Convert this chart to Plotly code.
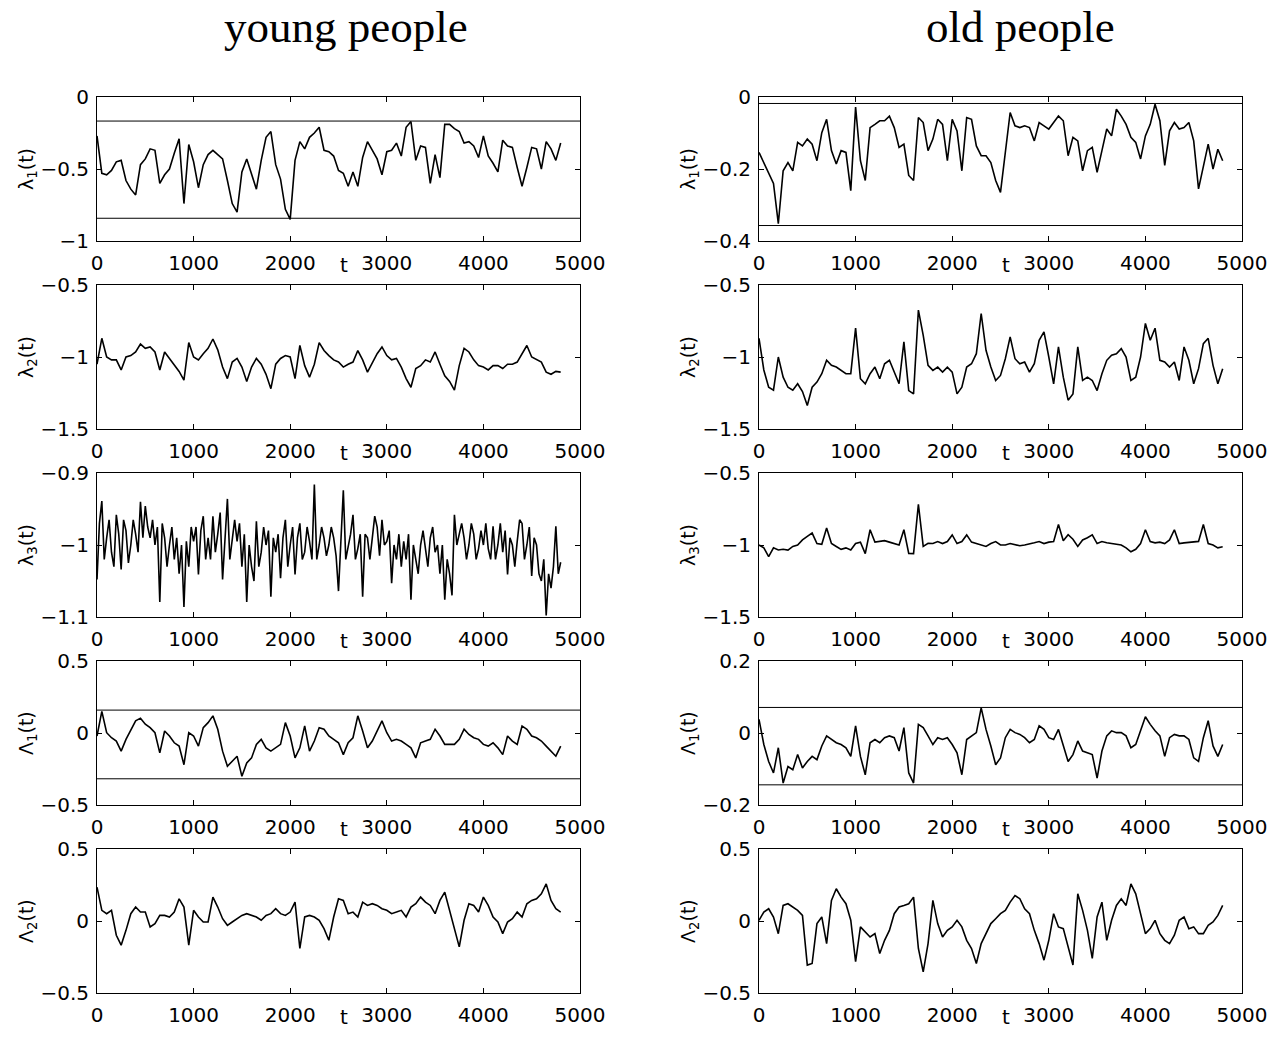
import plotly.graph_objects as go

# Time axis (samples every 50 steps)
t = list(range(0, 4801, 50))

# ---- young people ----
lam1_young = [
    -0.27, -0.53, -0.54, -0.51, -0.45, -0.44, -0.58, -0.64, -0.68, -0.47,
    -0.43, -0.36, -0.37, -0.60, -0.54, -0.50, -0.39, -0.29, -0.74, -0.33,
    -0.45, -0.63, -0.47, -0.40, -0.37, -0.40, -0.43, -0.58, -0.74, -0.80,
    -0.52, -0.43, -0.53, -0.64, -0.44, -0.28, -0.24, -0.47, -0.57, -0.78,
    -0.85, -0.44, -0.31, -0.36, -0.28, -0.25, -0.21, -0.37, -0.38, -0.41,
    -0.51, -0.53, -0.62, -0.52, -0.62, -0.42, -0.31, -0.37, -0.43, -0.54,
    -0.38, -0.37, -0.32, -0.41, -0.21, -0.17, -0.44, -0.34, -0.35, -0.60,
    -0.40, -0.56, -0.19, -0.19, -0.22, -0.24, -0.32, -0.31, -0.34, -0.42,
    -0.27, -0.41, -0.46, -0.52, -0.30, -0.34, -0.35, -0.49, -0.62, -0.49,
    -0.35, -0.36, -0.50, -0.31, -0.36, -0.44, -0.32]

lam2_young = [
    -1.05, -0.87, -1.00, -1.02, -1.02, -1.09, -1.00, -0.99, -0.965, -0.91,
    -0.94, -0.93, -0.965, -1.09, -0.965, -1.01, -1.06, -1.10, -1.16, -0.90,
    -1.00, -1.02, -0.977, -0.94, -0.875, -0.95, -1.07, -1.15, -1.035, -1.01,
    -1.07, -1.17, -1.07, -1.01, -1.05, -1.12, -1.22, -1.05, -1.01, -0.99,
    -1.00, -1.15, -0.92, -1.06, -1.14, -1.05, -0.90, -0.955, -0.99, -1.02,
    -1.035, -1.07, -1.05, -1.035, -0.955, -1.02, -1.105, -1.035, -0.977, -0.93,
    -0.99, -1.02, -1.01, -1.07, -1.15, -1.21, -1.08, -1.06, -1.02, -1.035,
    -0.965, -1.05, -1.13, -1.17, -1.23, -1.06, -0.94, -0.965, -1.02, -1.06,
    -1.07, -1.09, -1.06, -1.06, -1.08, -1.05, -1.05, -1.035, -0.98, -0.92,
    -1.00, -1.02, -1.035, -1.105, -1.12, -1.10, -1.105]

# lambda_3 (young) is very noisy: samples on the 50-grid plus the in-between samples
lam3_young = [
    -1.048, -0.939, -0.99, -1.01, -0.958, -1.034, -0.98, -1.00, -0.985, -0.94,
    -0.946, -0.99, -1.00, -1.079, -0.99, -1.00, -1.02, -1.04, -1.086, -1.03,
    -0.995, -1.041, -0.96, -0.99, -0.96, -0.985, -1.048, -0.936, -0.99, -0.995,
    -1.03, -1.079, -1.03, -0.967, -1.01, -1.00, -1.072, -1.01, -1.046, -0.965,
    -1.00, -1.041, -0.97, -1.01, -0.995, -0.916, -1.00, -0.99, -1.00, -0.99,
    -1.064, -0.924, -1.00, -0.958, -1.005, -1.072, -0.99, -0.99, -0.975, -0.965,
    -0.995, -1.053, -1.02, -1.03, -1.02, -1.076, -1.02, -1.00, -1.005, -0.99,
    -1.01, -1.04, -1.076, -1.04, -0.958, -0.985, -0.99, -1.00, -0.985, -1.005,
    -1.00, -1.005, -0.974, -1.00, -1.01, -1.041, -1.00, -0.995, -0.97, -1.00,
    -1.043, -1.00, -1.05, -1.098, -1.06, -0.974, -1.024]
lam3_young_mid = [
    -0.97, -1.02, -0.965, -1.03, -0.985, -0.965, -1.025, -0.965, -1.01, -0.99,
    -0.975, -0.965, -0.975, -0.97, -1.03, -0.975, -0.99, -1.00, -0.995, -0.975,
    -0.975, -0.98, -1.02, -1.02, -1.01, -0.955, -0.99, -1.02, -0.965, -0.97,
    -0.985, -1.00, -1.05, -1.03, -0.975, -0.98, -0.99, -0.985, -0.99, -1.03,
    -0.975, -0.99, -1.02, -0.975, -1.02, -1.02, -0.975, -1.015, -0.975, -1.015,
    -0.985, -1.02, -0.985, -1.02, -0.985, -0.985, -1.02, -0.96, -1.015, -1.00,
    -0.98, -1.00, -0.985, -0.995, -0.985, -1.00, -1.04, -0.98, -1.03, -0.975,
    -1.00, -1.00, -1.02, -1.07, -1.00, -0.97, -1.02, -0.97, -1.02, -0.98,
    -0.97, -1.02, -1.02, -0.97, -0.98, -0.99, -1.03, -0.965, -1.02, -0.975,
    -0.99, -1.04, -1.02, -1.04, -1.03, -1.04]

Lam1_young = [
    -0.021, 0.15, 0.002, -0.033, -0.056, -0.126, -0.044, 0.026, 0.084, 0.103,
    0.061, 0.037, 0.002, -0.138, 0.014, -0.021, -0.068, -0.091, -0.22, 0.002,
    -0.021, -0.091, 0.037, 0.072, 0.119, 0.026, -0.126, -0.231, -0.196, -0.161,
    -0.301, -0.208, -0.173, -0.079, -0.044, -0.103, -0.126, -0.103, -0.079, 0.072,
    -0.021, -0.173, -0.103, 0.049, -0.126, -0.056, 0.037, 0.026, -0.021, -0.044,
    -0.068, -0.15, -0.068, -0.033, 0.119, 0.014, -0.103, -0.056, 0.014, 0.084,
    0.002, -0.056, -0.044, -0.056, -0.079, -0.103, -0.173, -0.068, -0.056, -0.044,
    0.026, -0.021, -0.079, -0.079, -0.079, -0.044, 0.026, -0.01, -0.033, -0.044,
    -0.079, -0.091, -0.068, -0.103, -0.15, -0.021, -0.056, -0.079, 0.049, 0.026,
    -0.021, -0.033, -0.056, -0.091, -0.126, -0.161, -0.091]

Lam2_young = [
    0.235, 0.074, 0.051, 0.074, -0.099, -0.168, -0.065, 0.051, 0.097, 0.062,
    0.062, -0.041, -0.018, 0.039, 0.039, 0.028, 0.062, 0.154, 0.097, -0.168,
    0.074, 0.028, -0.007, -0.007, 0.166, 0.097, 0.016, -0.03, -0.007, 0.016,
    0.039, 0.051, 0.039, 0.028, 0.005, 0.039, 0.051, 0.085, 0.051, 0.039,
    0.062, 0.131, -0.191, 0.028, 0.039, 0.028, 0.005, -0.053, -0.134, 0.028,
    0.154, 0.143, 0.051, 0.062, 0.028, 0.131, 0.108, 0.12, 0.108, 0.085,
    0.074, 0.051, 0.062, 0.074, 0.028, 0.097, 0.12, 0.166, 0.131, 0.108,
    0.051, 0.143, 0.2, 0.074, -0.065, -0.18, 0.005, 0.12, 0.108, 0.062,
    0.166, 0.108, 0.028, -0.007, -0.088, -0.007, 0.016, 0.062, 0.028, 0.12,
    0.143, 0.154, 0.189, 0.258, 0.143, 0.085, 0.062]

# ---- old people ----
lam1_old = [
    -0.154, -0.182, -0.209, -0.240, -0.352, -0.205, -0.182, -0.205, -0.126, -0.136,
    -0.117, -0.131, -0.177, -0.099, -0.062, -0.149, -0.186, -0.149, -0.154, -0.260,
    -0.028, -0.177, -0.232, -0.085, -0.076, -0.066, -0.066, -0.053, -0.085, -0.140,
    -0.131, -0.218, -0.232, -0.057, -0.071, -0.149, -0.117, -0.062, -0.076, -0.177,
    -0.062, -0.094, -0.205, -0.057, -0.062, -0.136, -0.163, -0.163, -0.182, -0.232,
    -0.265, -0.154, -0.043, -0.080, -0.085, -0.080, -0.085, -0.122, -0.071, -0.080,
    -0.089, -0.071, -0.053, -0.066, -0.163, -0.112, -0.122, -0.205, -0.149, -0.140,
    -0.209, -0.149, -0.089, -0.108, -0.034, -0.053, -0.076, -0.112, -0.126, -0.172,
    -0.108, -0.076, -0.020, -0.066, -0.190, -0.094, -0.071, -0.089, -0.085, -0.071,
    -0.122, -0.255, -0.195, -0.131, -0.200, -0.145, -0.177]

lam2_old = [
    -0.87, -1.09, -1.21, -1.23, -1.00, -1.14, -1.21, -1.23, -1.186, -1.24,
    -1.337, -1.21, -1.174, -1.116, -1.023, -1.058, -1.07, -1.093, -1.116, -1.116,
    -0.80, -1.151, -1.186, -1.116, -1.07, -1.151, -1.047, -1.023, -1.105, -1.186,
    -0.895, -1.233, -1.256, -0.674, -0.85, -1.058, -1.093, -1.07, -1.105, -1.07,
    -1.105, -1.256, -1.209, -1.07, -1.047, -0.977, -0.698, -0.953, -1.07, -1.163,
    -1.128, -1.012, -0.86, -1.012, -1.047, -1.035, -1.105, -1.047, -0.884, -0.826,
    -1.00, -1.186, -0.93, -1.14, -1.30, -1.256, -0.93, -1.163, -1.14, -1.163,
    -1.233, -1.116, -1.023, -0.988, -0.977, -0.942, -1.00, -1.163, -1.14, -1.00,
    -0.767, -0.884, -0.80, -1.023, -1.035, -1.07, -1.035, -1.163, -0.93, -1.023,
    -1.186, -1.081, -0.907, -0.87, -1.058, -1.186, -1.081]

lam3_old = [
    -1.00, -1.02, -1.08, -1.02, -1.035, -1.03, -1.035, -1.01, -1.00, -0.965,
    -0.94, -0.917, -0.99, -0.995, -0.882, -0.99, -1.01, -1.03, -1.02, -1.035,
    -0.99, -0.98, -1.06, -0.894, -0.98, -0.976, -0.97, -0.98, -0.99, -1.00,
    -0.894, -1.059, -1.06, -0.717, -1.01, -0.988, -0.99, -0.976, -0.99, -0.976,
    -0.93, -0.99, -0.976, -0.93, -0.98, -0.99, -1.00, -1.01, -0.99, -0.976,
    -1.00, -1.00, -0.99, -1.00, -1.005, -1.00, -0.99, -0.985, -0.976, -0.99,
    -0.98, -0.976, -0.858, -0.97, -0.929, -0.96, -1.01, -0.965, -0.95, -0.93,
    -0.99, -0.976, -0.985, -0.99, -1.00, -1.00, -1.02, -1.047, -1.03, -0.99,
    -0.894, -0.976, -0.985, -0.98, -0.99, -0.965, -0.894, -0.99, -0.985, -0.98,
    -0.98, -0.975, -0.858, -0.99, -1.00, -1.02, -1.012]

Lam1_old = [
    0.038, -0.032, -0.079, -0.111, -0.041, -0.139, -0.093, -0.102, -0.06, -0.097,
    -0.079, -0.065, -0.074, -0.036, -0.008, -0.018, -0.027, -0.032, -0.041, -0.065,
    0.02, -0.065, -0.116, -0.027, -0.018, -0.027, -0.013, -0.008, -0.013, -0.05,
    0.015, -0.111, -0.139, 0.024, 0.015, -0.008, -0.032, -0.013, -0.018, -0.013,
    -0.032, -0.055, -0.116, -0.018, -0.008, 0.001, 0.07, 0.01, -0.036, -0.088,
    -0.069, -0.013, 0.01, 0.001, -0.004, -0.013, -0.027, -0.018, 0.02, 0.01,
    -0.013, -0.018, 0.01, -0.032, -0.079, -0.06, -0.022, -0.05, -0.055, -0.06,
    -0.125, -0.05, -0.008, 0.006, 0.001, 0.001, -0.008, -0.041, -0.032, 0.006,
    0.045, 0.024, 0.006, -0.008, -0.065, -0.013, -0.004, -0.008, -0.008, -0.018,
    -0.069, -0.079, -0.013, 0.034, -0.036, -0.065, -0.032]

Lam2_old = [
    0.005, 0.062, 0.085, 0.028, -0.088, 0.108, 0.12, 0.097, 0.074, 0.039,
    -0.306, -0.295, -0.018, 0.028, -0.157, 0.143, 0.224, 0.166, 0.12, 0.005,
    -0.283, -0.041, -0.076, -0.111, -0.088, -0.226, -0.134, -0.065, 0.051, 0.097,
    0.108, 0.12, 0.166, -0.191, -0.353, -0.157, 0.143, -0.018, -0.111, -0.065,
    -0.041, 0.005, -0.041, -0.134, -0.191, -0.295, -0.157, -0.088, -0.018, 0.016,
    0.051, 0.074, 0.131, 0.177, 0.155, 0.085, 0.051, -0.065, -0.157, -0.272,
    -0.134, 0.051, -0.041, -0.053, -0.18, -0.306, 0.189, 0.074, -0.065, -0.26,
    0.028, 0.131, -0.134, 0.005, 0.108, 0.154, 0.108, 0.258, 0.189, 0.039,
    -0.088, -0.053, 0.005, -0.088, -0.134, -0.157, -0.099, 0.005, 0.028, -0.053,
    -0.041, -0.088, -0.088, -0.03, -0.007, 0.039, 0.108]

# Threshold levels drawn as horizontal reference lines
lam1_young_bounds = [-0.167, -0.842]
lam1_old_bounds = [-0.018, -0.357]
Lam1_young_bounds = [0.159, -0.318]
Lam1_old_bounds = [0.071, -0.144]

x_ticks = [0, 1000, 2000, 3000, 4000, 5000]
column_titles = ["young people", "old people"]

# interleave the 50-grid samples with the in-between samples (t on a 25-grid)
t_fine = list(range(0, 4801, 25))
lam3_young_full = []
for a, b in zip(lam3_young, lam3_young_mid):
    lam3_young_full += [a, b]
lam3_young_full.append(lam3_young[-1])

# panel specs: (column, row, t, series, y ticks, y tick text, y label, bounds)
panels = [
    (0, 0, t, lam1_young, [-1, -0.5, 0], ["\u22121", "\u22120.5", "0"], "\u03bb<sub>1</sub>(t)", lam1_young_bounds),
    (0, 1, t, lam2_young, [-1.5, -1, -0.5], ["\u22121.5", "\u22121", "\u22120.5"], "\u03bb<sub>2</sub>(t)", None),
    (0, 2, t_fine, lam3_young_full, [-1.1, -1, -0.9], ["\u22121.1", "\u22121", "\u22120.9"], "\u03bb<sub>3</sub>(t)", None),
    (0, 3, t, Lam1_young, [-0.5, 0, 0.5], ["\u22120.5", "0", "0.5"], "\u039b<sub>1</sub>(t)", Lam1_young_bounds),
    (0, 4, t, Lam2_young, [-0.5, 0, 0.5], ["\u22120.5", "0", "0.5"], "\u039b<sub>2</sub>(t)", None),
    (1, 0, t, lam1_old, [-0.4, -0.2, 0], ["\u22120.4", "\u22120.2", "0"], "\u03bb<sub>1</sub>(t)", lam1_old_bounds),
    (1, 1, t, lam2_old, [-1.5, -1, -0.5], ["\u22121.5", "\u22121", "\u22120.5"], "\u03bb<sub>2</sub>(t)", None),
    (1, 2, t, lam3_old, [-1.5, -1, -0.5], ["\u22121.5", "\u22121", "\u22120.5"], "\u03bb<sub>3</sub>(t)", None),
    (1, 3, t, Lam1_old, [-0.2, 0, 0.2], ["\u22120.2", "0", "0.2"], "\u039b<sub>1</sub>(t)", Lam1_old_bounds),
    (1, 4, t, Lam2_old, [-0.5, 0, 0.5], ["\u22120.5", "0", "0.5"], "\u039b<sub>2</sub>(t)", None),
]

W, H = 1288, 1039
COL_X = [(97, 580), (759, 1242)]
ROW_TOP = [97, 285, 473, 661, 849]
PANEL_H = 144
TICK_FONT = dict(family="DejaVu Sans", size=20, color="black")

fig = go.Figure()
layout = dict(
    width=W, height=H, autosize=False,
    margin=dict(l=0, r=0, t=0, b=0, pad=0, autoexpand=False),
    paper_bgcolor="white", plot_bgcolor="white", showlegend=False,
)
annotations = []

for i, (col, row, tx, series, yt, ytt, ylab, bounds) in enumerate(panels):
    n = i + 1
    xa = "xaxis" if n == 1 else f"xaxis{n}"
    ya = "yaxis" if n == 1 else f"yaxis{n}"
    xr = "x" if n == 1 else f"x{n}"
    yr = "y" if n == 1 else f"y{n}"
    x0, x1 = COL_X[col]
    top = ROW_TOP[row]
    bot = top + PANEL_H
    axis_common = dict(
        showline=True, linecolor="black", linewidth=1, mirror="ticks",
        ticks="inside", ticklen=5, tickwidth=1, tickcolor="black",
        showgrid=False, zeroline=False, tickfont=TICK_FONT, fixedrange=True,
        automargin=False,
    )
    layout[xa] = dict(
        domain=[x0 / W, x1 / W], range=[0, 5000], anchor=yr,
        tickvals=x_ticks, ticktext=[str(v) for v in x_ticks],
        ticklabelstandoff=4, **axis_common,
    )
    layout[ya] = dict(
        domain=[1 - bot / H, 1 - top / H], range=[yt[0], yt[-1]], anchor=xr,
        tickvals=yt, ticktext=ytt, ticklabelstandoff=3, **axis_common,
    )
    fig.add_trace(go.Scatter(
        x=tx, y=series, mode="lines", xaxis=xr, yaxis=yr,
        line=dict(color="black", width=1.6), hoverinfo="skip",
    ))
    if bounds:
        for b in bounds:
            fig.add_trace(go.Scatter(
                x=[0, 5000], y=[b, b], mode="lines", xaxis=xr, yaxis=yr,
                line=dict(color="black", width=1), hoverinfo="skip",
            ))
    # "t" axis caption between tick labels
    annotations.append(dict(
        text="t", xref=f"{xr} domain", yref=f"{yr} domain", x=0.5, y=0,
        xanchor="center", yanchor="top", xshift=5, yshift=-10,
        showarrow=False, font=TICK_FONT,
    ))
    # rotated y label
    annotations.append(dict(
        text=ylab, xref=f"{xr} domain", yref=f"{yr} domain", x=0, y=0.5,
        xanchor="center", yanchor="middle", xshift=-70, textangle=-90,
        showarrow=False, font=dict(family="DejaVu Sans", size=19, color="black"),
    ))

for col, title in enumerate(column_titles):
    cx = [346, 1020][col]
    annotations.append(dict(
        text=title, xref="paper", yref="paper", x=cx / W, y=1,
        xanchor="center", yanchor="top", showarrow=False,
        font=dict(family="Liberation Serif", size=45, color="black"),
    ))

layout["annotations"] = annotations
fig.update_layout(**layout)

# keep the page exactly the size of the figure (no body margin / scrollbars)
page_fix = (
    "document.documentElement.style.margin='0';"
    "document.body.style.margin='0';"
    "document.body.style.padding='0';"
    "document.documentElement.style.overflow='hidden';"
    "document.body.style.overflow='hidden';"
)
fig.write_html("out.html", post_script=page_fix, config={"responsive": False})
